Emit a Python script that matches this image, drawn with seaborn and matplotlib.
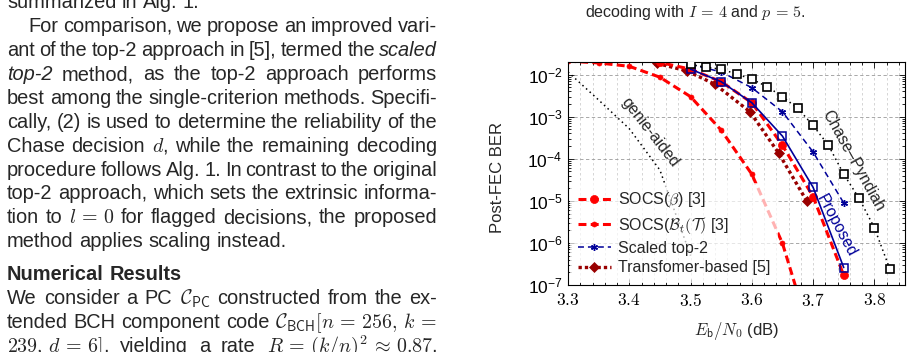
import re
import matplotlib
matplotlib.use("Agg")
import matplotlib.pyplot as plt
from matplotlib.transforms import IdentityTransform
from matplotlib.ticker import FixedLocator, LogLocator, MultipleLocator, NullFormatter
import seaborn as sns

# ---- values ----
xticks = [3.3, 3.4, 3.5, 3.6, 3.7, 3.8]
yticks = [1e-7, 1e-6, 1e-5, 1e-4, 1e-3, 1e-2]

ebn0_genie = [3.30, 3.35, 3.40, 3.45, 3.50]
ber_genie = [1.16e-2, 2.5e-3, 5.2e-4, 5.4e-5, 5e-7]

ebn0_socs_bt = [3.30, 3.35, 3.40, 3.45, 3.50, 3.55, 3.60, 3.65, 3.70]
ber_socs_bt = [2.1e-2, 1.9e-2, 1.58e-2, 8.7e-3, 3.0e-3, 4.8e-4, 4.3e-5, 9.8e-7, 4e-9]

ebn0_socs_beta = [3.40, 3.45, 3.50, 3.55, 3.60, 3.65, 3.70, 3.75]
ber_socs_beta = [2.6e-2, 1.95e-2, 1.35e-2, 6.8e-3, 2.15e-3, 2.1e-4, 1.26e-5, 1.7e-7]

ebn0_transf = [3.445, 3.494, 3.540, 3.597, 3.644, 3.690]
ber_transf = [1.86e-2, 1.23e-2, 5.9e-3, 1.31e-3, 1.35e-4, 9.7e-6]

ebn0_top2 = [3.50, 3.55, 3.60, 3.65, 3.70, 3.75]
ber_top2 = [1.75e-2, 1.16e-2, 4.9e-3, 1.31e-3, 1.45e-4, 8.9e-6]

ebn0_prop = [3.50, 3.55, 3.60, 3.65, 3.70, 3.75]
ber_prop = [1.35e-2, 6.8e-3, 2.15e-3, 3.46e-4, 2.1e-5, 2.6e-7]

ebn0_chase = [3.500, 3.525, 3.550, 3.575, 3.600, 3.625, 3.650,
              3.675, 3.700, 3.725, 3.750, 3.775, 3.800, 3.825]
ber_chase = [1.75e-2, 1.50e-2, 1.35e-2, 1.04e-2, 7.8e-3, 5.2e-3, 3.0e-3,
             1.58e-3, 6.2e-4, 2.1e-4, 4.3e-5, 1.15e-5, 2.3e-6, 2.45e-7]

legend_labels = ["SOCS($\\beta$) [3]", "SOCS($\\mathcal{B}_t(\\mathcal{T})$ [3]",
                 "Scaled top-2", "Transfomer-based [5]"]

# left column of the page
body_text = [
    ("summarized in Alg. 1.", False, False),
    ("For comparison, we propose an improved vari-", True, True),
    ("ant of the top-2 approach in [5], termed the *scaled*", False, True),
    ("*top-2* method, as the top-2 approach performs", False, True),
    ("best among the single-criterion methods. Specifi-", False, True),
    ("cally, (2) is used to determine the reliability of the", False, True),
    ("Chase decision $d$, while the remaining decoding", False, True),
    ("procedure follows Alg. 1. In contrast to the original", False, True),
    ("top-2 approach, which sets the extrinsic informa-", False, True),
    ("tion to $l\\,=\\,\\mathbf{0}$ for flagged decisions, the proposed", False, True),
    ("method applies scaling instead.", False, False),
]
results_text = [
    ("We consider a PC $\\mathcal{C}_{\\mathsf{PC}}$ constructed from the ex-", False, True),
    ("tended BCH component code $\\mathcal{C}_{\\mathsf{BCH}}[n\\,=\\,256,\\,k\\,=$", False, True),
    ("$239,\\,d\\,=\\,6]$, yielding a rate $R\\,=\\,(k/n)^2\\,\\approx\\,0.87$,", False, True),
]

RED = "#ff0000"
DRED = "#990000"
NAVY = "#000099"

sns.set_style("ticks")
plt.rcParams["font.family"] = ["Liberation Sans", "DejaVu Sans"]
plt.rcParams["mathtext.fontset"] = "cm"
plt.rcParams["lines.dash_capstyle"] = "butt"

W, H = 911, 352
fig = plt.figure(figsize=(W / 100, H / 100), dpi=100)
fig.patch.set_facecolor("white")
rend = fig.canvas.get_renderer()

# ---------- page text ----------
BODY_SIZE = 14.4
probe1 = fig.text(0, 0, "a a", fontsize=BODY_SIZE, transform=IdentityTransform())
probe2 = fig.text(0, 0, "aa", fontsize=BODY_SIZE, transform=IdentityTransform())
space_w = probe1.get_window_extent(rend).width - probe2.get_window_extent(rend).width
probe1.remove()
probe2.remove()


def text_line(s, xl, xr, base, size, justify, weight="normal"):
    toks = re.findall(r"(?:\$[^$]*\$|\S)+", s)
    arts = []
    for tok in toks:
        style = "normal"
        if tok.startswith("*") and tok.endswith("*"):
            tok, style = tok[1:-1], "italic"
        arts.append(fig.text(0, 0, tok, transform=IdentityTransform(), fontsize=size,
                             fontstyle=style, fontweight=weight, va="baseline", ha="left"))
    widths = [a.get_window_extent(rend).width for a in arts]
    gap = space_w
    if justify and len(arts) > 1:
        gap = (xr - xl - sum(widths)) / (len(arts) - 1)
    x = xl
    for a, w in zip(arts, widths):
        a.set_position((x, H - base))
        x += w + gap


LEAD = 23.87
for i, (s, indent, just) in enumerate(body_text):
    text_line(s, 28 if indent else 7, 437, 8.5 + LEAD * i, BODY_SIZE, just)
text_line("Numerical Results", 7, 437, 280.5, BODY_SIZE, False, weight="bold")
for i, (s, indent, just) in enumerate(results_text):
    text_line(s, 7, 437, 304.5 + LEAD * i, BODY_SIZE, just)

fig.text(695 / W, 1 - 17 / H, "decoding with $I\\,=\\,4$ and $p\\,=\\,5$.",
         ha="center", va="baseline", fontsize=11.6)

# ---------- chart ----------
ax = fig.add_axes([568 / W, 1 - 285 / H, 337 / W, 223 / H])
ax.set_yscale("log")


def draw(x, y, color, ls, lw, marker=None, ms=0, mfc=None, mew=1.0, z=2):
    sns.lineplot(x=x, y=y, ax=ax, color=color, marker=marker, markersize=ms,
                 markerfacecolor=mfc if mfc is not None else color,
                 markeredgecolor=color, markeredgewidth=mew, linewidth=lw,
                 zorder=z, sort=False, estimator=None)
    line = ax.lines[-1]
    line.set_linestyle(ls)
    return line


draw(ebn0_genie, ber_genie, "black", (0, (1, 2.2)), 1.1, z=2.0)
h_bt = draw(ebn0_socs_bt, ber_socs_bt, RED, (0, (2.6, 1.4)), 2.2, "o", 3.6, mew=0.5, z=2.1)
h_tr = draw(ebn0_transf, ber_transf, DRED, (0, (1, 0.9)), 2.4, "D", 5.6, mew=0.5, z=2.2)
h_sb = draw(ebn0_socs_beta, ber_socs_beta, RED, (0, (2.6, 1.4)), 2.2, "o", 5.8, mew=0.5, z=2.3)
h_t2 = draw(ebn0_top2, ber_top2, NAVY, (0, (3.9, 2.6)), 1.1, (6, 2, 0), 5.0, mew=1.0, z=2.4)
draw(ebn0_prop, ber_prop, NAVY, "-", 1.2, "s", 5.6, mfc="none", mew=1.1, z=2.5)
draw(ebn0_chase, ber_chase, "black", (0, (1, 2.2)), 1.1, "s", 5.6, mfc="white", mew=1.2, z=2.6)

ax.set_xlim(3.3, 3.85)
ax.set_ylim(1e-7, 2e-2)
ax.xaxis.set_major_locator(FixedLocator(xticks))
ax.set_xticklabels([f"${t:.1f}$" for t in xticks])
ax.xaxis.set_minor_locator(MultipleLocator(0.02))
ax.yaxis.set_major_locator(FixedLocator(yticks))
ax.yaxis.set_minor_locator(LogLocator(base=10, subs=range(2, 10), numticks=20))
ax.yaxis.set_minor_formatter(NullFormatter())
ax.tick_params(which="both", direction="in", top=True, right=True, width=0.6,
               labelsize=12.5, colors="black")
ax.tick_params(which="major", length=4)
ax.tick_params(which="minor", length=2.2)
ax.tick_params(axis="x", pad=5)
ax.tick_params(axis="y", pad=4)
ax.set_axisbelow(True)
ax.grid(True, which="major", axis="y", color="#9a9a9a", linestyle=(0, (4, 3)), linewidth=0.6)
ax.grid(True, which="both", axis="x", color="#cfcfcf", linestyle=(0, (3, 3)), linewidth=0.6)
for sp in ax.spines.values():
    sp.set_linewidth(0.8)
    sp.set_color("black")

ax.set_ylabel("Post-FEC BER", fontsize=12)
ax.set_xlabel("$E_{\\mathsf{b}}/N_0$ (dB)", fontsize=12)
ax.yaxis.set_label_coords(-0.208, 0.48)
ax.yaxis.label.set_va("center")
ax.xaxis.set_label_coords(0.5, -0.206)
ax.xaxis.label.set_va("center")

ax.text(3.434, 4.3e-4, "genie-aided", rotation=-52, ha="center", va="center",
        rotation_mode="anchor", fontsize=11.5)
ax.text(3.765, 8.9e-5, "Chase\u2013Pyndiah", rotation=-61, ha="center", va="center",
        rotation_mode="anchor", fontsize=11.5)
ax.text(3.738, 2.6e-6, "Proposed", rotation=-62, ha="center", va="center",
        rotation_mode="anchor", fontsize=11.5, color=NAVY)

leg = ax.legend([h_sb, h_bt, h_t2, h_tr], legend_labels, loc="lower left",
                bbox_to_anchor=(0.0, 0.0), fontsize=11.5, frameon=True, framealpha=0.7,
                edgecolor="white", fancybox=False, handlelength=2.1, handletextpad=0.45,
                labelspacing=0.3, borderpad=0.45, borderaxespad=0.15, numpoints=1)
leg.get_frame().set_linewidth(0)

fig.savefig("out.png", dpi=100, facecolor="white")
